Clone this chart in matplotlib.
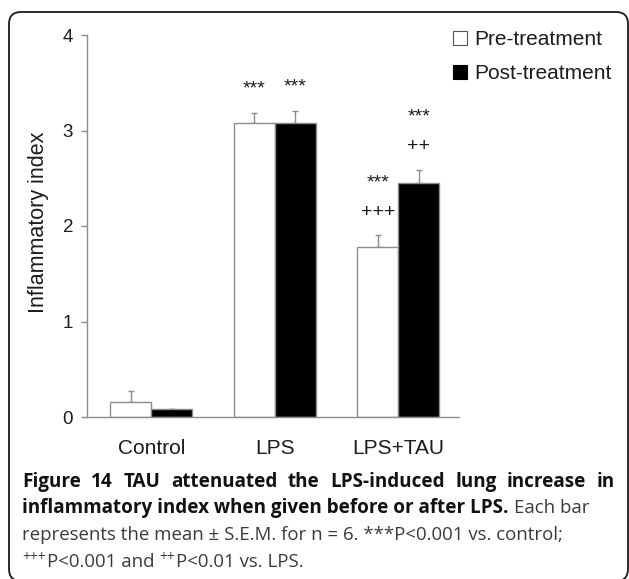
import matplotlib
matplotlib.use("Agg")
import matplotlib.pyplot as plt
import matplotlib.transforms as mtransforms
import numpy as np
from matplotlib.patches import Patch, FancyBboxPatch

# data
groups = ["Control", "LPS", "LPS+TAU"]
pre_mean = [0.16, 3.08, 1.78]
pre_sem = [0.11, 0.10, 0.13]
post_mean = [0.08, 3.08, 2.45]
post_sem = [0.005, 0.12, 0.14]
series = ["Pre-treatment", "Post-treatment"]

# significance marks: (group index, series 0=pre 1=post, label, y in data units)
marks = [
    (1, 0, "***", 3.39),
    (1, 1, "***", 3.41),
    (2, 0, "***", 2.40),
    (2, 0, "+++", 2.09),
    (2, 1, "***", 3.09),
    (2, 1, "++", 2.79),
]

W, H = 629, 579
fig = plt.figure(figsize=(W / 100, H / 100), dpi=100)
plt.rcParams["font.family"] = ["Liberation Sans", "DejaVu Sans"]

def fx(x):
    return x / W

def fy(y):
    return 1 - y / H

gray = "#8c8c8c"
ink = "#1c1c1c"

ax = fig.add_axes([fx(87), fy(417), fx(459) - fx(87), fy(35) - fy(417)])
x = np.arange(len(groups))
bw = 0.332
ax.bar(x - bw / 2, pre_mean, bw, color="white", edgecolor=gray, linewidth=1, zorder=2)
ax.bar(x + bw / 2, post_mean, bw, color="black", edgecolor=gray, linewidth=1, zorder=2)
ax.errorbar(x - bw / 2, pre_mean, yerr=[np.zeros(3), pre_sem], fmt="none",
            ecolor=gray, elinewidth=1, capsize=2, capthick=1, zorder=1)
ax.errorbar(x + bw / 2, post_mean, yerr=[np.zeros(3), post_sem], fmt="none",
            ecolor=gray, elinewidth=1, capsize=2, capthick=1, zorder=1)

for gi, si, lab, yy in marks:
    xx = x[gi] + (bw / 2 if si else -bw / 2)
    ax.text(xx, yy, lab, ha="center", va="baseline", fontsize=14, color=ink)

ax.set_xlim(-0.52, 2.49)
ax.set_ylim(0, 4)
ax.set_yticks([0, 1, 2, 3, 4])
ax.set_xticks(x)
ax.set_xticklabels(groups, fontsize=15, color=ink)
ax.tick_params(axis="x", length=0, pad=16)
ax.tick_params(axis="y", length=4, width=1, color=gray, labelsize=13.5, labelcolor=ink, pad=6)
for s in ["top", "right"]:
    ax.spines[s].set_visible(False)
for s in ["left", "bottom"]:
    ax.spines[s].set_color(gray)
    ax.spines[s].set_linewidth(1)
ax.set_ylabel("Inflammatory index", fontsize=15.5, color=ink)
lab_tr = mtransforms.blended_transform_factory(fig.transFigure, ax.transAxes)
ax.yaxis.set_label_coords(fx(49), 0.51, transform=lab_tr)

handles = [Patch(facecolor="white", edgecolor="#555555", linewidth=0.8),
           Patch(facecolor="black", edgecolor="black", linewidth=0.8)]
fig.legend(handles, series, loc="upper left", bbox_to_anchor=(fx(453), fy(30)),
           frameon=False, fontsize=15, handlelength=0.65, handleheight=0.65,
           handletextpad=0.35, labelspacing=0.72, borderpad=0, borderaxespad=0,
           labelcolor=ink)

# rounded frame around figure + caption
frame = FancyBboxPatch((0.09, -0.02), 6.19, 5.69, boxstyle="round,pad=0,rounding_size=0.12",
                       transform=fig.dpi_scale_trans, facecolor="none",
                       edgecolor="#1a1a1a", linewidth=1.3)
fig.add_artist(frame)

# caption, pieces chained left to right
cap_font = ["Open Sans", "DejaVu Sans"]
r = fig.canvas.get_renderer()

def width_px(s, **kw):
    t = fig.text(0, 0, s, **kw)
    w = t.get_window_extent(r).width
    t.remove()
    return w

def put(xpx, ypx, s, **kw):
    t = fig.text(fx(xpx), fy(ypx), s, va="baseline", ha="left", **kw)
    return xpx + t.get_window_extent(r).width

def put_justified(xpx, ypx, s, right, **kw):
    # first caption line is justified: spread the words to the right edge
    words = s.split()
    ws = [width_px(w, **kw) for w in words]
    gap = (right - xpx - sum(ws)) / (len(words) - 1)
    for w, wd in zip(words, ws):
        put(xpx, ypx, w, **kw)
        xpx += wd + gap

bold = dict(fontsize=13.6, fontweight="bold", family=cap_font, color="#111111")
reg = dict(fontsize=13.4, family=cap_font, color="#3a3a3a")
sup = dict(fontsize=10, family=cap_font, color="#3a3a3a")
sp = width_px("x x", **reg) - width_px("xx", **reg)

x0 = 22
put_justified(x0, 487, "Figure 14 TAU attenuated the LPS-induced lung increase in", 615, **bold)
xe = put(x0, 513, "inflammatory index when given before or after LPS.", **bold)
put(xe + sp + 1, 513, "Each bar", **reg)
put(x0, 540, "represents the mean \u00b1 S.E.M. for n = 6. ***P<0.001 vs. control;", **reg)
xe = put(x0, 561, "+++", **sup)
xe = put(xe + 1, 567, "P<0.001 and", **reg)
xe = put(xe + sp, 561, "++", **sup)
put(xe + 1, 567, "P<0.01 vs. LPS.", **reg)

fig.savefig("out.png", dpi=100)
